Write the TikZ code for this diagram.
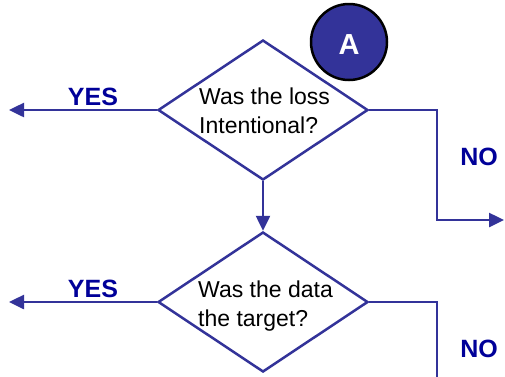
\documentclass[tikz,border=0pt]{standalone}
\usepackage{fontspec}
\setmainfont{Liberation Sans}
\usetikzlibrary{arrows.meta}
\usetikzlibrary{shapes.geometric}
\definecolor{flowline}{HTML}{333399}
\definecolor{answer}{HTML}{000099}

\begin{document}
\begin{tikzpicture}[x=1pt,y=-1pt,
    decision/.style={diamond,draw=flowline,line width=2.5pt,inner sep=0pt,minimum width=210pt,minimum height=140pt},
    question/.style={align=left,anchor=base west,inner sep=0pt,font=\fontsize{23}{29}\selectfont},
    answerlabel/.style={anchor=base,inner sep=0pt,text=answer,font=\fontsize{25}{30}\selectfont\bfseries},
    flow/.style={draw=flowline,line width=2.5pt,-{Triangle[length=15pt,width=14pt]}},
    plain/.style={draw=flowline,line width=2.5pt}]
    \useasboundingbox (0,0) rectangle (505,376);
    \node[decision] (q1) at (263,110) {};
    \node[decision] (q2) at (263,302) {};
    \node[question] (q1text) at (199,133) {Was the loss\\Intentional?};
    \node[question] (q2text) at (198,326) {Was the data\\the target?};
    \coordinate (yes1end) at (9,110);
    \coordinate (yes2end) at (9,302);
    \coordinate (no1bend) at (437,110);
    \coordinate (no1end) at (504,220);
    \coordinate (no2bend) at (437,302);
    \coordinate (no2end) at (437,377);
    \draw[flow] (q1.west) -- (yes1end);
    \draw[flow] (q2.west) -- (yes2end);
    \draw[flow] (q1.south) -- (q2.north);
    \draw[flow] (q1.east) -- (no1bend) |- (no1end);
    \draw[plain] (q2.east) -- (no2bend) -- (no2end);
    \node[answerlabel] (yes1) at (93,105) {YES};
    \node[answerlabel] (yes2) at (93,297) {YES};
    \node[answerlabel] (no1) at (479,165) {NO};
    \node[answerlabel] (no2) at (479,357) {NO};
    \node[circle,draw=black,line width=2.5pt,fill=flowline,minimum size=76pt,inner sep=0pt] (marker) at (349,42) {};
    \node[anchor=base,inner sep=0pt,text=white,font=\fontsize{29}{34}\selectfont\bfseries] (markertext) at (349,54) {A};
\end{tikzpicture}
\end{document}
